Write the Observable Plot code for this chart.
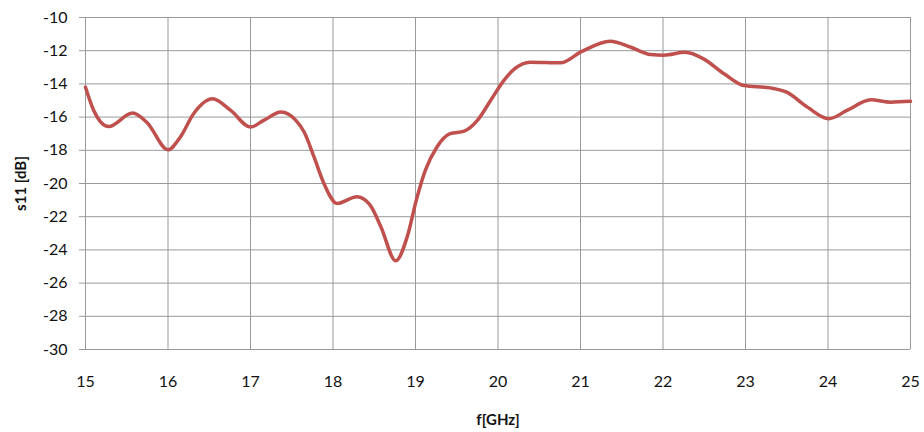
<!DOCTYPE html>
<html>
<head>
<meta charset="utf-8">
<script src="https://cdn.jsdelivr.net/npm/d3@7"></script>
<script src="https://cdn.jsdelivr.net/npm/@observablehq/plot@0.6"></script>
<style>
  html, body { margin: 0; padding: 0; background: #fff; }
</style>
</head>
<body>
<div id="chart"></div>
<script>
const freq = [15.0, 15.1, 15.28, 15.57, 15.75, 16.0, 16.15, 16.31, 16.54, 16.76, 17.0, 17.16, 17.37, 17.55, 17.65, 17.77, 17.89, 18.05, 18.29, 18.45, 18.58, 18.76, 18.9, 19.01, 19.12, 19.26, 19.42, 19.59, 19.75, 19.91, 20.07, 20.2, 20.39, 20.76, 21.0, 21.36, 21.61, 21.85, 22.01, 22.27, 22.49, 22.74, 22.98, 23.3, 23.5, 23.75, 24.01, 24.23, 24.52, 24.76, 25.0];
const s11 = [-14.2, -15.6, -16.57, -15.76, -16.35, -17.97, -17.2, -15.8, -14.9, -15.6, -16.6, -16.2, -15.7, -16.2, -16.9, -18.4, -20.0, -21.2, -20.8, -21.3, -22.6, -24.65, -23.2, -21.0, -19.2, -17.8, -17.0, -16.85, -16.2, -15.0, -13.8, -13.1, -12.69, -12.73, -12.09, -11.43, -11.79, -12.23, -12.27, -12.1, -12.49, -13.39, -14.1, -14.24, -14.5, -15.4, -16.1, -15.6, -14.96, -15.1, -15.05];
const xTicks = [15, 16, 17, 18, 19, 20, 21, 22, 23, 24, 25];
const yTicks = [-30, -28, -26, -24, -22, -20, -18, -16, -14, -12, -10];

const data = freq.map((f, i) => ({f, s: s11[i]}));
const fmt = d => String(d);

const chart = Plot.plot({
  width: 924,
  height: 432,
  marginLeft: 85,
  marginRight: 14,
  marginTop: 17,
  marginBottom: 83,
  style: {fontFamily: "Lato, 'Open Sans', sans-serif", fontSize: "16px", color: "#111", background: "#fff"},
  x: {domain: [15, 25]},
  y: {domain: [-30, -10]},
  marks: [
    Plot.gridX(xTicks, {stroke: "#999", strokeOpacity: 1, strokeWidth: 1}),
    Plot.gridY(yTicks, {stroke: "#999", strokeOpacity: 1, strokeWidth: 1}),
    Plot.axisX(xTicks, {tickSize: 0, tickPadding: 26, tickFormat: fmt, label: "f[GHz]", labelAnchor: "center", labelArrow: "none", labelOffset: 75, fontSize: 16}),
    Plot.axisY(yTicks, {tickSize: 6, tickPadding: 12, tickFormat: fmt, stroke: "#999", label: "s11 [dB]", labelAnchor: "center", labelArrow: "none", labelOffset: 70, fontSize: 16}),
    Plot.line(data, {x: "f", y: "s", stroke: "#c0504d", strokeWidth: 3.5, curve: "monotone-x"})
  ]
});
document.getElementById("chart").appendChild(chart);
chart.querySelectorAll("g[aria-label='x-axis label'] text, g[aria-label='y-axis label'] text").forEach(t => { t.setAttribute("font-weight", "bold"); t.setAttribute("font-size", "15"); });
chart.querySelectorAll("g[aria-label='y-axis tick label'] text, g[aria-label='x-axis tick label'] text").forEach(t => t.setAttribute("fill", "#111"));
</script>
</body>
</html>
